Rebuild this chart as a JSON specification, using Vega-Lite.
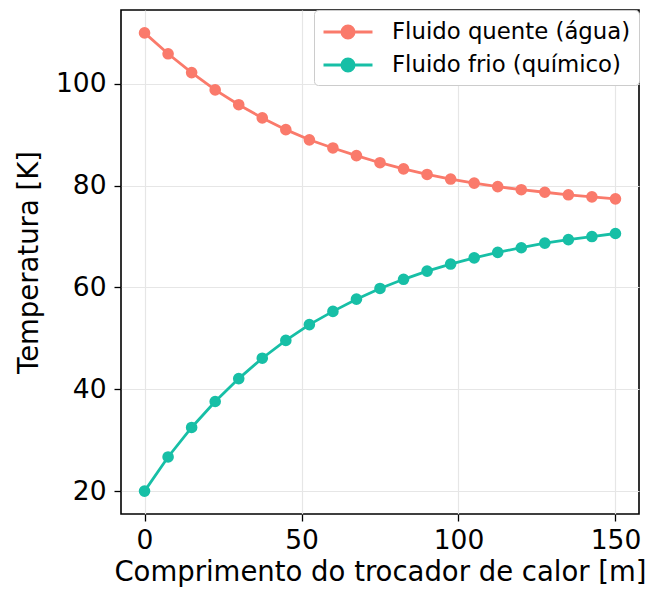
{
  "$schema": "https://vega.github.io/schema/vega-lite/v6.json",
  "width": 518,
  "height": 504,
  "autosize": {"type": "none"},
  "padding": {"left": 121, "top": 10, "right": 19, "bottom": 83},
  "background": "white",
  "config": {
    "font": "DejaVu Sans",
    "view": {"stroke": "black", "strokeWidth": 1.6},
    "axis": {
      "labelFont": "DejaVu Sans",
      "titleFont": "DejaVu Sans",
      "labelFontSize": 26.5,
      "titleFontSize": 27.5,
      "titleFontWeight": "normal",
      "labelColor": "black",
      "titleColor": "black",
      "tickColor": "black",
      "tickSize": 7,
      "tickWidth": 1.3,
      "domain": false,
      "gridColor": "#e6e6e6",
      "gridWidth": 1.2
    }
  },
  "data": {
    "values": [
      {"x": 0, "T": 110.0, "s": "Fluido quente (água)"},
      {"x": 7.5, "T": 105.9, "s": "Fluido quente (água)"},
      {"x": 15, "T": 102.2, "s": "Fluido quente (água)"},
      {"x": 22.5, "T": 98.8, "s": "Fluido quente (água)"},
      {"x": 30, "T": 95.9, "s": "Fluido quente (água)"},
      {"x": 37.5, "T": 93.3, "s": "Fluido quente (água)"},
      {"x": 45, "T": 91.0, "s": "Fluido quente (água)"},
      {"x": 52.5, "T": 89.0, "s": "Fluido quente (água)"},
      {"x": 60, "T": 87.4, "s": "Fluido quente (água)"},
      {"x": 67.5, "T": 85.9, "s": "Fluido quente (água)"},
      {"x": 75, "T": 84.5, "s": "Fluido quente (água)"},
      {"x": 82.5, "T": 83.3, "s": "Fluido quente (água)"},
      {"x": 90, "T": 82.2, "s": "Fluido quente (água)"},
      {"x": 97.5, "T": 81.3, "s": "Fluido quente (água)"},
      {"x": 105, "T": 80.5, "s": "Fluido quente (água)"},
      {"x": 112.5, "T": 79.8, "s": "Fluido quente (água)"},
      {"x": 120, "T": 79.2, "s": "Fluido quente (água)"},
      {"x": 127.5, "T": 78.7, "s": "Fluido quente (água)"},
      {"x": 135, "T": 78.2, "s": "Fluido quente (água)"},
      {"x": 142.5, "T": 77.8, "s": "Fluido quente (água)"},
      {"x": 150, "T": 77.4, "s": "Fluido quente (água)"},
      {"x": 0, "T": 20.0, "s": "Fluido frio (químico)"},
      {"x": 7.5, "T": 26.7, "s": "Fluido frio (químico)"},
      {"x": 15, "T": 32.5, "s": "Fluido frio (químico)"},
      {"x": 22.5, "T": 37.6, "s": "Fluido frio (químico)"},
      {"x": 30, "T": 42.1, "s": "Fluido frio (químico)"},
      {"x": 37.5, "T": 46.1, "s": "Fluido frio (químico)"},
      {"x": 45, "T": 49.6, "s": "Fluido frio (químico)"},
      {"x": 52.5, "T": 52.7, "s": "Fluido frio (químico)"},
      {"x": 60, "T": 55.3, "s": "Fluido frio (químico)"},
      {"x": 67.5, "T": 57.7, "s": "Fluido frio (químico)"},
      {"x": 75, "T": 59.8, "s": "Fluido frio (químico)"},
      {"x": 82.5, "T": 61.6, "s": "Fluido frio (químico)"},
      {"x": 90, "T": 63.2, "s": "Fluido frio (químico)"},
      {"x": 97.5, "T": 64.6, "s": "Fluido frio (químico)"},
      {"x": 105, "T": 65.8, "s": "Fluido frio (químico)"},
      {"x": 112.5, "T": 66.9, "s": "Fluido frio (químico)"},
      {"x": 120, "T": 67.8, "s": "Fluido frio (químico)"},
      {"x": 127.5, "T": 68.7, "s": "Fluido frio (químico)"},
      {"x": 135, "T": 69.4, "s": "Fluido frio (químico)"},
      {"x": 142.5, "T": 70.0, "s": "Fluido frio (químico)"},
      {"x": 150, "T": 70.6, "s": "Fluido frio (químico)"}
    ]
  },
  "mark": {"type": "line", "strokeWidth": 2.8, "point": {"filled": true, "size": 135, "opacity": 1}},
  "encoding": {
    "x": {
      "field": "x", "type": "quantitative",
      "title": "Comprimento do trocador de calor [m]",
      "scale": {"domain": [-7.5, 157.5], "nice": false, "zero": false},
      "axis": {"values": [0, 50, 100, 150], "labelPadding": 6, "titlePadding": 5}
    },
    "y": {
      "field": "T", "type": "quantitative",
      "title": "Temperatura [K]",
      "scale": {"domain": [15.5, 114.5], "nice": false, "zero": false},
      "axis": {"values": [20, 40, 60, 80, 100], "labelPadding": 8, "titlePadding": 12}
    },
    "color": {
      "field": "s", "type": "nominal",
      "scale": {"domain": ["Fluido quente (água)", "Fluido frio (químico)"], "range": ["#fa7a6b", "#17bfa6"]},
      "legend": {
        "title": null,
        "orient": "top-right",
        "offset": 0,
        "padding": 8,
        "fillColor": "white",
        "strokeColor": "#cccccc",
        "cornerRadius": 4,
        "labelFont": "DejaVu Sans",
        "labelFontSize": 22.8,
        "labelColor": "black",
        "labelLimit": 400,
        "symbolType": "M-2,0H2M0.5,0A0.5,0.5 0 1 1 -0.5,0A0.5,0.5 0 1 1 0.5,0Z",
        "symbolSize": 600,
        "symbolStrokeWidth": 2.8,
        "symbolOpacity": 1,
        "symbolOffset": 12,
        "rowPadding": 7,
        "labelOffset": 30
      }
    }
  }
}
